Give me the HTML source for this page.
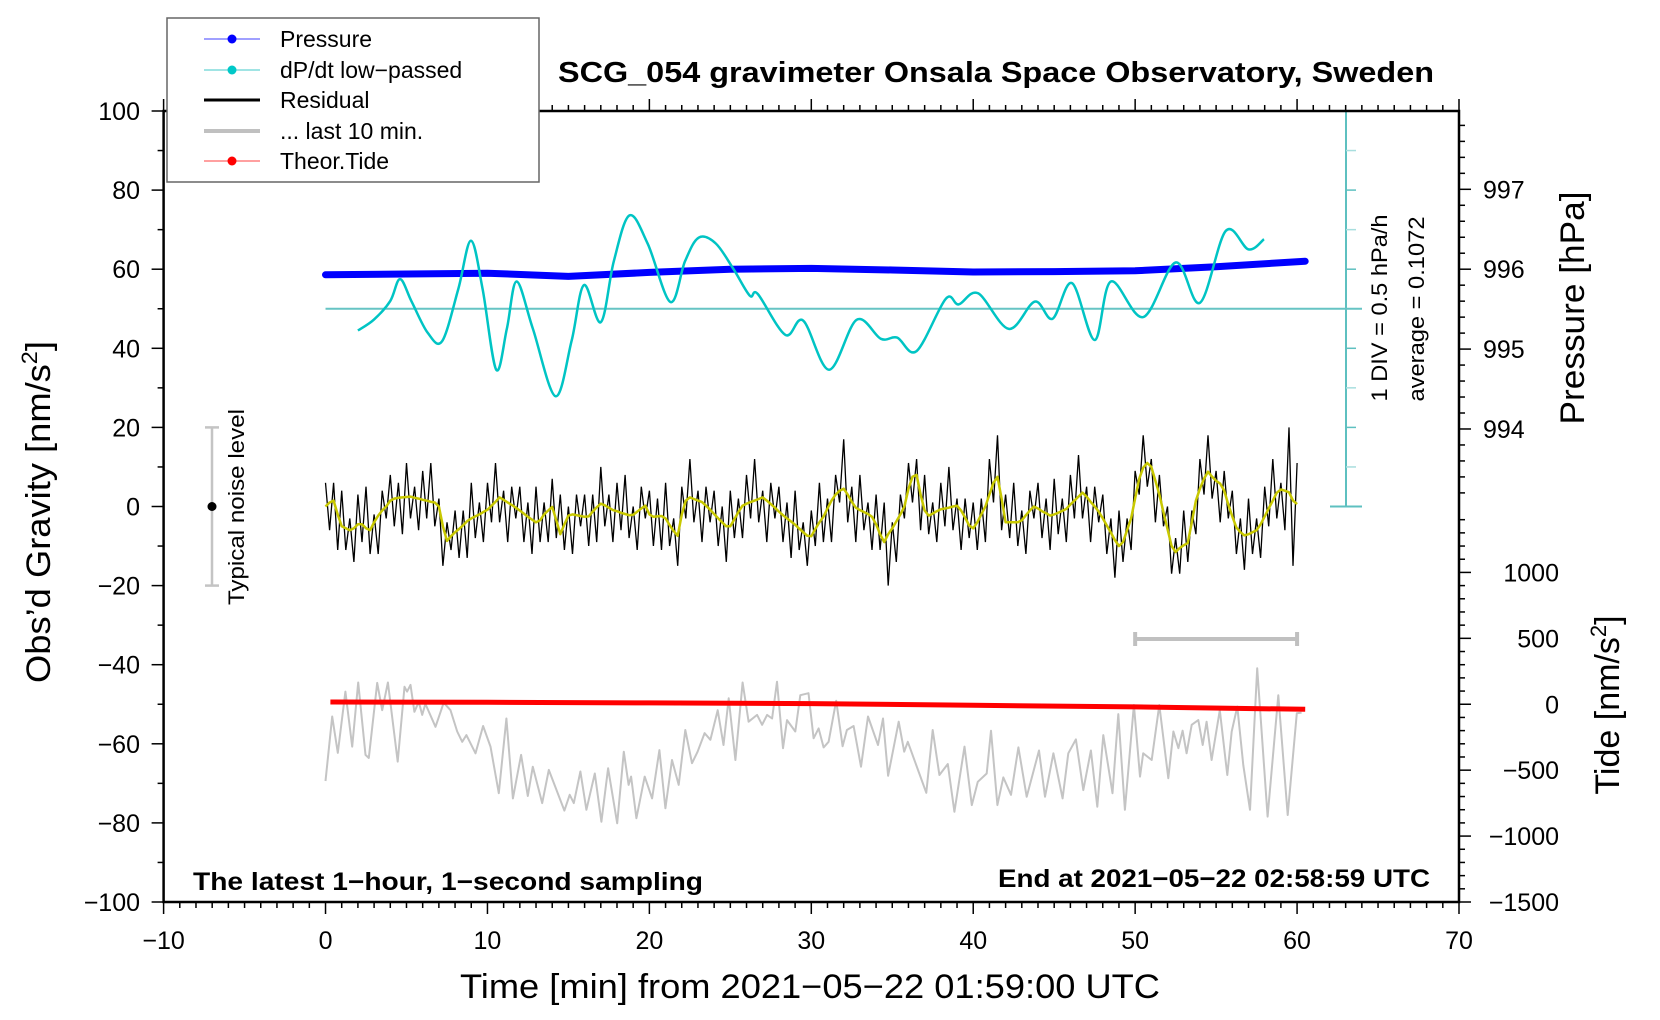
<!DOCTYPE html>
<html><head><meta charset="utf-8"><style>
html,body{margin:0;padding:0;background:#fff;}
svg{display:block;font-family:"Liberation Sans",Arial,sans-serif;}
</style></head><body>
<svg id="chart" width="1660" height="1020" viewBox="0 0 1660 1020" xmlns="http://www.w3.org/2000/svg">
<rect x="0" y="0" width="1660" height="1020" fill="#fff"/>
<g id="layer-data"></g>
<g id="layer-axes"></g>
<g id="layer-text">
<text x="1006" y="82" font-size="29" font-weight="bold" text-anchor="middle" textLength="876" lengthAdjust="spacingAndGlyphs" transform="translate(-10,0)">SCG_054 gravimeter Onsala Space Observatory, Sweden</text>
<text x="810" y="998" font-size="34" text-anchor="middle" textLength="700" lengthAdjust="spacingAndGlyphs">Time [min] from 2021−05−22 01:59:00 UTC</text>
<text transform="translate(50,512) rotate(-90)" font-size="34" text-anchor="middle" textLength="342" lengthAdjust="spacingAndGlyphs">Obs’d Gravity [nm/s<tspan font-size="22" dy="-13">2</tspan><tspan dy="13">]</tspan></text>
<text transform="translate(1584,308) rotate(-90)" font-size="34" text-anchor="middle" textLength="233" lengthAdjust="spacingAndGlyphs">Pressure [hPa]</text>
<text transform="translate(1619,705) rotate(-90)" font-size="34" text-anchor="middle">Tide [nm/s<tspan font-size="22" dy="-13">2</tspan><tspan dy="13">]</tspan></text>
<text transform="translate(1387,308) rotate(-90)" font-size="22" text-anchor="middle" textLength="187" lengthAdjust="spacingAndGlyphs">1 DIV = 0.5 hPa/h</text>
<text transform="translate(1424,309) rotate(-90)" font-size="22" text-anchor="middle" textLength="185" lengthAdjust="spacingAndGlyphs">average = 0.1072</text>
<text transform="translate(244,507) rotate(-90)" font-size="22" text-anchor="middle" textLength="196" lengthAdjust="spacingAndGlyphs">Typical noise level</text>
<text x="193" y="890" font-size="25" font-weight="bold" textLength="510" lengthAdjust="spacingAndGlyphs">The latest 1−hour, 1−second sampling</text>
<text x="1430" y="887" font-size="25" font-weight="bold" text-anchor="end" textLength="432" lengthAdjust="spacingAndGlyphs">End at 2021−05−22 02:58:59 UTC</text>
</g>
<g id="legend">
<rect x="167" y="18" width="372" height="164" fill="#fff" stroke="#666" stroke-width="1.5"/>
<g><line x1="204" y1="39" x2="260" y2="39" stroke="#4040ff" stroke-width="1"/><circle cx="232" cy="39" r="4.5" fill="#0000ff"/><text x="280" y="47" font-size="23">Pressure</text></g>
<g><line x1="204" y1="70" x2="260" y2="70" stroke="#40c8c8" stroke-width="1"/><circle cx="232" cy="70" r="4.5" fill="#00c8c8"/><text x="280" y="78" font-size="23">dP/dt low−passed</text></g>
<g><line x1="204" y1="100" x2="260" y2="100" stroke="#000" stroke-width="3"/><text x="280" y="108" font-size="23">Residual</text></g>
<g><line x1="204" y1="131" x2="260" y2="131" stroke="#c0c0c0" stroke-width="4"/><text x="280" y="139" font-size="23">... last 10 min.</text></g>
<g><line x1="204" y1="161" x2="260" y2="161" stroke="#ff4040" stroke-width="1"/><circle cx="232" cy="161" r="4.5" fill="#ff0000"/><text x="280" y="169" font-size="23">Theor.Tide</text></g>
</g>
</svg>
<script>
// ---------- data ----------
const residualStartMin = 0;
const residualStepMin = 0.25;
const smoothedResidual = [0,1,1.5,-2,-5,-5.5,-6,-5.5,-4.5,-4.5,-5.5,-6,-4,-2.3,-1,0,1.5,2,2.2,2.3,2.4,2.5,2.2,2,1.7,1.5,1.2,1,0,-5,-8.7,-7.5,-6.5,-5.7,-4.7,-3.7,-3,-2.5,-2,-1.4,-0.8,0.2,1.2,2.3,1.7,1,0.4,-0.3,-1,-1.8,-2.6,-3.3,-4,-3.5,-2,-1,-0.1,-3.5,-7,-4.5,-2.3,-2,-2.2,-2.4,-2.6,-2.5,-1.3,-0.2,0.7,0.3,-0.3,-0.9,-1.2,-1.6,-1.9,-2.2,-2.1,-1.3,-0.5,0.2,-2,-2.6,-2.5,-2.4,-3,-4.7,-6.2,-7.4,-2,1.5,2.3,1.9,1.5,1.1,0.2,-0.8,-1.9,-3,-4,-5,-5,-3.2,-1.4,0.2,0.7,1.1,1.5,1.9,2.3,1.5,0.6,-0.3,-1.3,-2.2,-3,-3.8,-4.6,-5.6,-6.5,-7.4,-7.5,-5.7,-4,-2.6,-0.5,1.5,3,4,4.5,3,1.2,-0.3,-0.9,-1.4,-1.9,-2.6,-4.5,-7,-9,-7,-5.5,-3.8,-2,0,4.5,7.5,8,3,-1,-2.3,-1.8,-1.2,-0.7,-0.5,-0.3,0,0.2,-1,-2.8,-4.8,-5.5,-4,-2,0,3,6,7.5,2,-4,-4,-4,-4,-3.5,-2.2,-1,0,-0.5,-1.2,-1.7,-2.3,-2,-1.6,-1.1,-0.6,0.5,1.5,2.5,3.5,2.5,1.2,0,-1.3,-3,-4.8,-6.6,-8.5,-10,-9,-6,-3,2,7,9.8,11,10,6.5,3,-1.5,-5.7,-10,-11.5,-10.5,-9.8,-9.2,-4,1.5,4.5,7,8.8,7.5,6.5,5.8,4,0.5,-2.5,-5.3,-6.5,-7.3,-7,-6.5,-6,-4.5,-2.5,-0.5,1.5,3.5,4.3,4,3.6,1.5,0.6];
const residual = [6,-6,6,-11,4,-11,-3,-14,3,-9,5,-12,-2,-12,4,-3,8,-5,6,-7,11,-3,5,-6,9,-3,11,-5,2,-15,-4,-11,-1,-13,-1,-13,6,-8,1,-9,6,-4,11,-4,4,-9,5,-3,5,-9,1,-12,5,-9,1,-9,7,-8,3,-11,0,-12,3,-5,3,-10,3,-9,10,-5,3,-9,6,-6,8,-8,0,-11,5,-3,4,-10,2,-11,6,-10,-3,-15,5,-3,12,-4,4,-9,5,-4,4,-10,0,-14,4,-8,2,-8,8,-3,12,-4,4,-9,6,-3,5,-9,1,-13,4,-11,-4,-15,-1,-10,6,-9,2,-9,8,1,17,-4,5,-9,8,-6,1,-11,3,-11,1,-20,-4,-14,3,-3,11,1,12,-6,8,-7,1,-9,6,-5,10,-6,2,-11,2,-8,1,-11,2,-9,12,1,18,-6,3,-8,6,-10,-1,-12,4,-3,6,-8,2,-11,7,-7,2,-9,8,-3,13,-3,5,-9,5,-4,3,-12,-3,-18,-1,-14,-3,-11,9,3,18,5,12,-4,8,-5,0,-17,-8,-17,-1,-14,-1,-7,12,3,18,2,9,-4,9,-3,4,-12,-3,-16,2,-12,-3,-13,5,-5,12,-3,6,-6,20,-15,11];
const dpdtTimes = [2,3,4,4.6,5.3,6.3,7.2,8.2,8.98,9.7,10.54,11.2,11.8,12.8,14.2,15.2,15.96,17,17.8,18.77,19.9,21.3,22.2,23.05,24.1,25.2,26.2,26.7,28.4,29.5,31.1,32.8,34.3,35.3,36.5,38.3,39.1,40.3,42.2,43.8,44.9,46.1,47.5,48.5,50.5,52.5,54,55.6,57,57.96];
const dpdtValues = [-0.168,-0.028,0.207,0.482,0.207,-0.193,-0.303,0.357,0.967,0.357,-0.663,-0.143,0.452,-0.143,-0.998,-0.293,0.407,-0.063,0.707,1.287,0.927,0.192,0.707,1.007,0.932,0.607,0.272,0.292,-0.223,-0.043,-0.663,-0.033,-0.273,-0.258,-0.428,0.232,0.162,0.302,-0.148,0.197,-0.018,0.432,-0.288,0.452,0.002,0.692,0.182,1.092,0.857,0.987];
const dpdtAverage = 0.1072;
const pressureTimes = [0,5,10,15,20,25,30,35,40,45,50,55,60.5];
const pressureValues = [995.93,995.94,995.95,995.91,995.96,996.0,996.01,995.99,995.965,995.97,995.98,996.03,996.10];
const lastTenTimes = [0,0.41,0.76,1.23,1.65,2.02,2.47,2.67,3.19,3.5,3.85,4.46,4.88,5.04,5.25,5.49,5.76,5.97,6.17,6.79,7.3,7.72,8.13,8.44,8.7,9.26,9.73,10.19,10.7,11.17,11.57,12.08,12.49,12.8,13.38,13.79,14.75,15.08,15.33,15.74,16.11,16.63,17.04,17.45,18.01,18.42,18.72,18.87,19.2,19.71,20.17,20.62,20.99,21.4,21.81,22.22,22.63,22.98,23.41,23.77,24.22,24.58,24.9,25.31,25.76,26.13,26.65,26.96,27.27,27.58,27.88,28.25,28.5,29.01,29.32,29.83,30.14,30.45,30.76,31.07,31.54,31.93,32.2,32.61,33.07,33.5,34.12,34.43,34.74,35.4,35.74,35.96,36.63,37.1,37.5,37.91,38.43,38.84,39.46,39.91,40.28,40.83,41.1,41.49,41.86,42.33,42.79,43.3,44.06,44.43,44.95,45.52,45.87,46.34,46.8,47.27,47.66,48.03,48.6,48.96,49.37,49.92,50.3,50.5,51.02,51.49,52.05,52.36,52.67,52.93,53.18,53.49,53.9,54.17,54.41,54.72,55.23,55.69,55.96,56.31,56.68,57.09,57.54,58.18,58.84,59.42,59.98,60.28];
const lastTenValues = [-69.4,-53.1,-62.3,-46.8,-60.7,-44.5,-62.8,-63.6,-44.6,-51.5,-44.5,-64.5,-45.6,-46.8,-45.1,-51.9,-49.4,-52.7,-49.9,-55.7,-49.6,-51.5,-56.9,-59.5,-57.8,-62.4,-55.5,-60.7,-72.5,-53.6,-73.8,-62.8,-73.2,-65.8,-75,-66.6,-76.9,-72.9,-75,-67,-76.7,-67.5,-79.7,-66.2,-80.1,-62,-70.4,-68.3,-78.8,-68.3,-73.8,-61.6,-76.3,-64.1,-70.4,-56.5,-64.9,-62,-57.3,-59,-51.5,-60.3,-48.5,-64.1,-44.5,-54.4,-52.7,-55.2,-52.7,-53.6,-44.3,-61.1,-54,-56.9,-47.7,-47.2,-58.6,-56.1,-60.9,-59.5,-49.1,-60.6,-56.5,-55.5,-65.8,-53.1,-60.3,-53.6,-68.1,-54.4,-62,-59.5,-67.1,-72.4,-56.5,-67.9,-65.1,-77.2,-60.7,-75.5,-69.6,-67.5,-56.7,-75.5,-68.5,-72.9,-60.9,-73.4,-61.7,-73.4,-62.4,-73.8,-62.4,-58.9,-71.7,-61.7,-75.9,-57.8,-72.5,-52.5,-76.7,-50.2,-68.3,-62.4,-64.1,-50.2,-68.7,-56.9,-61.1,-56.7,-62.4,-55.2,-54,-60.3,-54.4,-64.1,-51.5,-67.9,-56.9,-50.6,-65.4,-76.7,-40.9,-78.4,-47.7,-78,-52.3,-52.1];
const tideTimes = [0.3,10,20,30,40,50,60.5];
const tideValues = [17,15,10,5,-8,-20,-38];
const gravityTicks = [-100,-80,-60,-40,-20,0,20,40,60,80,100];
const timeTicks = [-10,0,10,20,30,40,50,60,70];
const pressureTicks = [994,995,996,997];
const tideTicks = [-1500,-1000,-500,0,500,1000];
const lastTenWindow = [50,60];
const noiseLevel = 20;

// ---------- scales ----------
const X0 = 163.6, X1 = 1459, Y0 = 111, Y1 = 902;
const X = t => X0 + (t + 10) * (X1 - X0) / 80;
const G = g => Y0 + (100 - g) * (Y1 - Y0) / 200;
const P = p => G(60 + (p - 996) * 20.2);
const T = v => G(-50 + v / 30);
const D = v => G(50 + (v - dpdtAverage) / 0.05);

const NS = 'http://www.w3.org/2000/svg';
const dataL = document.getElementById('layer-data');
const axL = document.getElementById('layer-axes');
function mk(tag, attrs, parent) {
  const e = document.createElementNS(NS, tag);
  for (const k in attrs) e.setAttribute(k, attrs[k]);
  parent.appendChild(e);
  return e;
}
function poly(xs, ys) { return xs.map((x, i) => x.toFixed(1) + ',' + ys[i].toFixed(1)).join(' '); }
function smoothPath(xs, ys) {
  let d = 'M' + xs[0].toFixed(1) + ',' + ys[0].toFixed(1);
  for (let i = 0; i < xs.length - 1; i++) {
    const x0 = xs[Math.max(i - 1, 0)], y0 = ys[Math.max(i - 1, 0)];
    const x1 = xs[i], y1 = ys[i], x2 = xs[i + 1], y2 = ys[i + 1];
    const x3 = xs[Math.min(i + 2, xs.length - 1)], y3 = ys[Math.min(i + 2, xs.length - 1)];
    const c1x = x1 + (x2 - x0) / 6, c1y = y1 + (y2 - y0) / 6;
    const c2x = x2 - (x3 - x1) / 6, c2y = y2 - (y3 - y1) / 6;
    d += ' C' + c1x.toFixed(1) + ',' + c1y.toFixed(1) + ' ' + c2x.toFixed(1) + ',' + c2y.toFixed(1) + ' ' + x2.toFixed(1) + ',' + y2.toFixed(1);
  }
  return d;
}

// ---------- dP/dt axis & average line ----------
const dAx = mk('g', {}, dataL);


mk('line', {x1: 1346, y1: G(100), x2: 1346, y2: G(0), stroke: '#5ec0c0', 'stroke-width': 2}, dAx);
mk('line', {x1: 1330, y1: G(100), x2: 1362, y2: G(100), stroke: '#5ec0c0', 'stroke-width': 2}, dAx);
mk('line', {x1: 1330, y1: G(0), x2: 1362, y2: G(0), stroke: '#5ec0c0', 'stroke-width': 2}, dAx);
for (let g = 10; g < 100; g += 10) {
  mk('line', {x1: 1346, y1: G(g), x2: 1356, y2: G(g), stroke: (g % 20 === 0) ? '#5ec0c0' : '#a8dede', 'stroke-width': 1.5}, dAx);
}
const avg = mk('line', {x1: X(0), y1: D(dpdtAverage), x2: 1362, y2: D(dpdtAverage), stroke: '#66c4c4', 'stroke-width': 2}, dataL);



// ---------- pressure ----------
const pr = mk('polyline', {points: poly(pressureTimes.map(X), pressureValues.map(P)), fill: 'none', stroke: '#0000ff', 'stroke-width': 7, 'stroke-linejoin': 'round', 'stroke-linecap': 'round'}, dataL);


pressureTimes.forEach((t, i) => {
  const c = mk('circle', {cx: X(t), cy: P(pressureValues[i]), r: 3, fill: '#0000ff'}, dataL);
  
  
});

// ---------- dP/dt curve ----------
const dc = mk('path', {d: smoothPath(dpdtTimes.map(X), dpdtValues.map(D)), fill: 'none', stroke: '#00c4c4', 'stroke-width': 2.5}, dataL);



// ---------- residual ----------
const rt = residual.map((v, i) => residualStartMin + i * residualStepMin);
const rl = mk('polyline', {points: poly(rt.map(X), residual.map(G)), fill: 'none', stroke: '#000', 'stroke-width': 1.3}, dataL);


const st = smoothedResidual.map((v, i) => residualStartMin + i * residualStepMin);
const sl = mk('polyline', {points: poly(st.map(X), smoothedResidual.map(G)), fill: 'none', stroke: '#c8c800', 'stroke-width': 2.5, 'stroke-linejoin': 'round'}, dataL);



// ---------- last 10 min ----------
const gl = mk('polyline', {points: poly(lastTenTimes.map(X), lastTenValues.map(G)), fill: 'none', stroke: '#c4c4c4', 'stroke-width': 2, 'stroke-linejoin': 'round'}, dataL);


const wb = mk('g', {}, dataL);


mk('line', {x1: X(lastTenWindow[0]), y1: 639, x2: X(lastTenWindow[1]), y2: 639, stroke: '#c0c0c0', 'stroke-width': 4}, wb);
mk('line', {x1: X(lastTenWindow[0]), y1: 632, x2: X(lastTenWindow[0]), y2: 646, stroke: '#c0c0c0', 'stroke-width': 4}, wb);
mk('line', {x1: X(lastTenWindow[1]), y1: 632, x2: X(lastTenWindow[1]), y2: 646, stroke: '#c0c0c0', 'stroke-width': 4}, wb);

// ---------- tide ----------
const tl = mk('polyline', {points: poly(tideTimes.map(X), tideValues.map(T)), fill: 'none', stroke: '#ff0000', 'stroke-width': 5}, dataL);



// ---------- noise bar ----------
const nb = mk('g', {}, dataL);


mk('line', {x1: 212, y1: G(noiseLevel), x2: 212, y2: G(-noiseLevel), stroke: '#c4c4c4', 'stroke-width': 2.5}, nb);
mk('line', {x1: 205, y1: G(noiseLevel), x2: 219, y2: G(noiseLevel), stroke: '#c4c4c4', 'stroke-width': 2.5}, nb);
mk('line', {x1: 205, y1: G(-noiseLevel), x2: 219, y2: G(-noiseLevel), stroke: '#c4c4c4', 'stroke-width': 2.5}, nb);
mk('circle', {cx: 212, cy: G(0), r: 4.5, fill: '#000'}, nb);

// ---------- axes ----------
const frame = mk('rect', {x: X0, y: Y0, width: X1 - X0, height: Y1 - Y0, fill: 'none', stroke: '#000', 'stroke-width': 2.5}, axL);


for (let t = -10; t <= 70; t += 1) {
  const major = t % 10 === 0, len = major ? 12 : 6;
  mk('line', {x1: X(t), y1: Y1, x2: X(t), y2: Y1 + len, stroke: '#000', 'stroke-width': 1.5}, axL);
  mk('line', {x1: X(t), y1: Y0, x2: X(t), y2: Y0 - len, stroke: '#000', 'stroke-width': 1.5}, axL);
}
timeTicks.forEach(t => {
  const e = mk('text', {x: X(t), y: 949, 'font-size': 25, 'text-anchor': 'middle'}, axL);
  e.textContent = String(t).replace('-', '−');
  
  
});
for (let g = -100; g <= 100; g += 10) {
  const major = g % 20 === 0, len = major ? 12 : 6;
  mk('line', {x1: X0 - len, y1: G(g), x2: X0, y2: G(g), stroke: '#000', 'stroke-width': 1.5}, axL);
}
gravityTicks.forEach(g => {
  const e = mk('text', {x: 140, y: G(g) + 9, 'font-size': 25, 'text-anchor': 'end'}, axL);
  e.textContent = String(g).replace('-', '−');
  
  
});
for (let k = 0; k <= 25; k++) {
  const p = 993 + k * 0.2, y = P(p);
  if (y < Y0 - 1 || y > G(0) + 1) continue;
  const major = k % 5 === 0, len = major ? 12 : 6;
  mk('line', {x1: X1, y1: y, x2: X1 + len, y2: y, stroke: '#000', 'stroke-width': 1.5}, axL);
}
pressureTicks.forEach(p => {
  const e = mk('text', {x: 1483, y: P(p) + 9, 'font-size': 25}, axL);
  e.textContent = String(p);
  
  
});
for (let v = -1500; v <= 1400; v += 100) {
  const major = v % 500 === 0, len = major ? 12 : 6;
  mk('line', {x1: X1, y1: T(v), x2: X1 + len, y2: T(v), stroke: '#000', 'stroke-width': 1.5}, axL);
}
tideTicks.forEach(v => {
  const e = mk('text', {x: 1559, y: T(v) + 9, 'font-size': 25, 'text-anchor': 'end'}, axL);
  e.textContent = String(v).replace('-', '−');
  
  
});
</script>
</body></html>
